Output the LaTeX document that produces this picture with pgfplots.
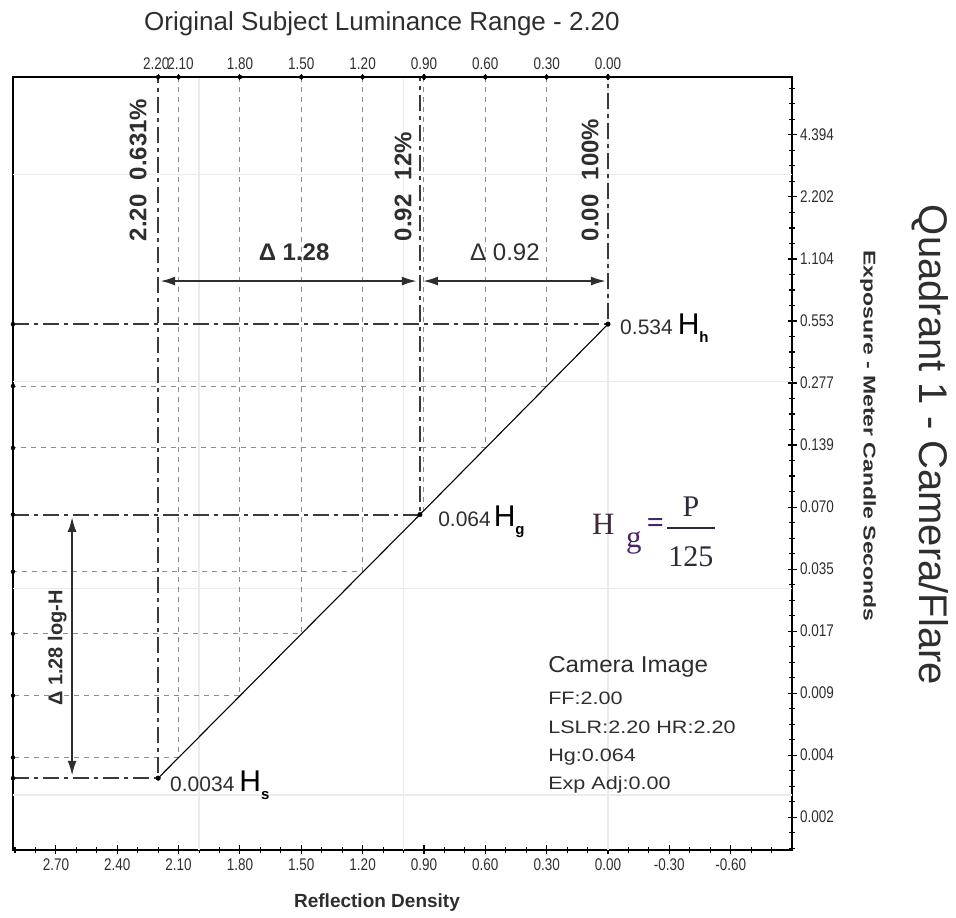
\documentclass[border=0pt]{standalone}
\usepackage{pgfplots}
\pgfplotsset{compat=1.18}
\usepackage{fontspec}
\setmainfont{Liberation Sans}
\newfontfamily\serif{Liberation Serif}
\usetikzlibrary{arrows.meta}
\definecolor{hcol}{HTML}{3E2A3C}
\definecolor{pcol}{HTML}{4A2468}
\definecolor{fraccol}{HTML}{2B2B3B}
\definecolor{thickdash}{HTML}{3A3A3A}
\definecolor{griddash}{HTML}{8C8C8C}
\definecolor{faint}{HTML}{EBEBEB}
\definecolor{txt}{HTML}{2E2E2E}
\newcommand{\fs}[1]{\fontsize{#1}{#1}\selectfont}

\begin{document}
\begin{tikzpicture}
\path[use as bounding box] (0,0) rectangle (956pt,918pt);
\begin{axis}[
  at={(13pt,68pt)}, anchor=south west,
  scale only axis, width=779pt, height=773pt,
  xmin=-0.90, xmax=2.91, x dir=reverse,
  ymin=-2.816, ymax=0.923,
  axis line style={line width=1.6pt, black},
  xtick={-0.6,-0.3,0,0.3,0.6,0.9,1.2,1.5,1.8,2.1,2.4,2.7},
  xticklabels={-0.60,-0.30,0.00,0.30,0.60,0.90,1.20,1.50,1.80,2.10,2.40,2.70},
  minor xtick={-0.8,-0.7,...,2.85},
  xtick pos=bottom,
  ytick={0.6428,0.3428,0.0428,-0.2572,-0.5572,-0.8572,-1.1572,-1.4572,-1.7572,-2.0572,-2.3572,-2.6572},
  yticklabels={4.394,2.202,1.104,0.553,0.277,0.139,0.070,0.035,0.017,0.009,0.004,0.002},
  minor ytick={-2.8072,-2.7322,...,0.92},
  ytick pos=right, yticklabel pos=right,
  tick align=center,
  major tick length=9pt, minor tick length=6pt,
  every tick/.style={black, line width=1.1pt},
  tick label style={font=\fs{13.5}, text=txt, yscale=1.25, transform shape},
  clip=false,
]
% faint background grid
\draw[faint, line width=1.2pt] (axis cs:0,-2.816) -- (axis cs:0,0.923);
\draw[faint, line width=1.2pt] (axis cs:1,-2.816) -- (axis cs:1,0.923);
\draw[faint, line width=1.2pt] (axis cs:2,-2.816) -- (axis cs:2,0.923);
\draw[faint, line width=1.2pt] (axis cs:2.91,0.45) -- (axis cs:-0.90,0.45);
\draw[faint, line width=1.2pt] (axis cs:2.91,-0.55) -- (axis cs:-0.90,-0.55);
\draw[faint, line width=1.2pt] (axis cs:2.91,-1.55) -- (axis cs:-0.90,-1.55);
\draw[faint, line width=1.2pt] (axis cs:2.91,-2.55) -- (axis cs:-0.90,-2.55);

% short dashed grid from top axis to curve to left axis
\pgfplotsset{gd/.style={griddash, line width=1pt, dash pattern=on 5pt off 5pt}}
\addplot[gd] coordinates {(0.3,0.923) (0.3,-0.5720) (2.91,-0.5720)};
\addplot[gd] coordinates {(0.6,0.923) (0.6,-0.8714) (2.91,-0.8714)};
\addplot[gd] coordinates {(0.9,0.923) (0.9,-1.1709)};
\addplot[gd] coordinates {(1.2,0.923) (1.2,-1.4703) (2.91,-1.4703)};
\addplot[gd] coordinates {(1.5,0.923) (1.5,-1.7698) (2.91,-1.7698)};
\addplot[gd] coordinates {(1.8,0.923) (1.8,-2.0692) (2.91,-2.0692)};
\addplot[gd] coordinates {(2.1,0.923) (2.1,-2.3687) (2.91,-2.3687)};

% thick dash-dot lines at Hh, Hg, Hs
\pgfplotsset{td/.style={thickdash, line width=2pt, dash pattern=on 16pt off 5pt on 4pt off 5pt}}
\addplot[td] coordinates {(2.91,-0.2725) (0,-0.2725) (0,0.923)};
\addplot[td] coordinates {(2.91,-1.1938) (0.92,-1.1938) (0.92,0.923)};
\addplot[td] coordinates {(2.91,-2.4685) (2.2,-2.4685) (2.2,0.923)};

% characteristic line
\addplot[black, line width=1.1pt] coordinates {(0,-0.2725) (0.92,-1.1938) (2.2,-2.4685)};
\addplot[only marks, mark=*, mark size=2.3pt, black] coordinates {(0,-0.2725) (0.92,-1.1938) (2.2,-2.4685)};
% left axis marks
\addplot[only marks, mark=*, mark size=2pt, black] coordinates {(2.91,-0.2725) (2.91,-0.5720) (2.91,-0.8714) (2.91,-1.1938) (2.91,-1.4703) (2.91,-1.7698) (2.91,-2.0692) (2.91,-2.3687) (2.91,-2.4685)};

% arrows
\draw[txt, line width=2pt, {Latex[length=15pt,width=9pt]}-{Latex[length=15pt,width=9pt]}] (axis cs:2.19,-0.064) -- (axis cs:0.935,-0.064);
\draw[txt, line width=2pt, {Latex[length=15pt,width=9pt]}-{Latex[length=15pt,width=9pt]}] (axis cs:0.905,-0.064) -- (axis cs:0.01,-0.064);
\draw[txt, line width=2pt, {Latex[length=15pt,width=9pt]}-{Latex[length=15pt,width=9pt]}] (axis cs:2.621,-1.205) -- (axis cs:2.621,-2.457);

% annotations
\node[font=\bfseries\fs{24}, text=txt] at (axis cs:1.535,0.077) {Δ 1.28};
\node[font=\fs{24}, text=txt] at (axis cs:0.504,0.077) {Δ 0.92};
\node[rotate=90, font=\bfseries\fs{20}, text=txt] at (axis cs:2.694,-1.839) {Δ 1.28 log-H};
\node[rotate=90, anchor=west, font=\bfseries\fs{24}, text=txt] at (axis cs:2.298,0.111) {2.20\hspace{0.6em}0.631\%};
\node[rotate=90, anchor=west, font=\bfseries\fs{24}, text=txt] at (axis cs:1.002,0.111) {0.92\hspace{0.6em}12\%};
\node[rotate=90, anchor=west, font=\bfseries\fs{24}, text=txt] at (axis cs:0.088,0.111) {0.00\hspace{0.6em}100\%};

\node[anchor=west, inner sep=0pt] at (axis cs:-0.059,-0.291) {{\fs{21}\color{txt}0.534}\hspace{5pt}{\fs{30}H}\raisebox{-8pt}{\fs{15}\bfseries h}};
\node[anchor=west, inner sep=0pt] at (axis cs:0.831,-1.230) {{\fs{21}\color{txt}0.064}\hspace{3pt}{\fs{30}H}\raisebox{-8pt}{\fs{15}\bfseries g}};
\node[anchor=west, inner sep=0pt] at (axis cs:2.142,-2.502) {{\fs{21}\color{txt}0.0034}\hspace{5pt}{\fs{30}H}\raisebox{-8pt}{\fs{15}\bfseries s}};

% formula Hg = P/125
\node[anchor=base west, inner sep=0pt, font=\serif\fs{31}, text=hcol] at (axis cs:0.078,-1.288) {H};
\node[anchor=base west, inner sep=0pt, font=\serif\fs{31}, text=pcol] at (axis cs:-0.088,-1.355) {g};
\node[inner sep=0pt, font=\serif\bfseries\fs{30}, text=pcol] at (axis cs:-0.232,-1.244) {=};
\draw[fraccol, line width=1.5pt] (axis cs:-0.2885,-1.259) -- (axis cs:-0.523,-1.259);
\node[anchor=base, inner sep=0pt, font=\serif\fs{30}, text=fraccol] at (axis cs:-0.406,-1.201) {P};
\node[anchor=base, inner sep=0pt, font=\serif\fs{30}, text=fraccol] at (axis cs:-0.406,-1.447) {125};

% camera info block
\node[anchor=west, inner sep=0pt, font=\fs{23}, text=txt] at (axis cs:0.293,-1.931) {\scalebox{1.05}[1]{Camera Image}};
\node[anchor=west, inner sep=0pt, font=\fs{18}, text=txt] at (axis cs:0.293,-2.081) {\scalebox{1.2}[1]{FF:2.00}};
\node[anchor=west, inner sep=0pt, font=\fs{18}, text=txt] at (axis cs:0.293,-2.221) {\scalebox{1.2}[1]{LSLR:2.20 HR:2.20}};
\node[anchor=west, inner sep=0pt, font=\fs{18}, text=txt] at (axis cs:0.293,-2.366) {\scalebox{1.2}[1]{Hg:0.064}};
\node[anchor=west, inner sep=0pt, font=\fs{18}, text=txt] at (axis cs:0.293,-2.502) {\scalebox{1.2}[1]{Exp Adj:0.00}};
\end{axis}

% top axis
\begin{axis}[
  at={(13pt,68pt)}, anchor=south west,
  scale only axis, width=779pt, height=773pt,
  xmin=-0.90, xmax=2.91, x dir=reverse,
  ymin=-2.816, ymax=0.923,
  axis x line*=top, axis y line=none,
  axis line style={line width=1.6pt, black},
  xtick={0,0.3,0.6,0.9,1.2,1.5,1.8,2.1,2.2},
  xticklabels={0.00,0.30,0.60,0.90,1.20,1.50,1.80,{\kern4pt 2.10},{2.20\kern4pt}},
  tick align=center, major tick length=6pt,
  every tick/.style={black, line width=1.1pt},
  xticklabel style={font=\fs{13.5}, text=txt, yscale=1.25, transform shape},
  clip=false,
]
\addplot[only marks, mark=*, mark size=2pt, black] coordinates {(0,0.923) (0.3,0.923) (0.6,0.923) (0.9,0.923) (1.2,0.923) (1.5,0.923) (1.8,0.923) (2.1,0.923) (2.2,0.923)};
\end{axis}

% outer titles
\node[font=\fs{26}, text=txt] at (382pt,894pt) {Original Subject Luminance Range - 2.20};
\node[font=\bfseries\fs{19}, text=txt] at (377pt,15pt) {Reflection Density};
\node[rotate=-90, font=\bfseries\fs{17}, text=txt] at (868pt,482pt) {\scalebox{1.35}[1]{Exposure - Meter Candle Seconds}};
\node[rotate=-90, font=\fs{40}, text=txt] at (930pt,473pt) {Quadrant 1 - Camera/Flare};
\end{tikzpicture}
\end{document}
